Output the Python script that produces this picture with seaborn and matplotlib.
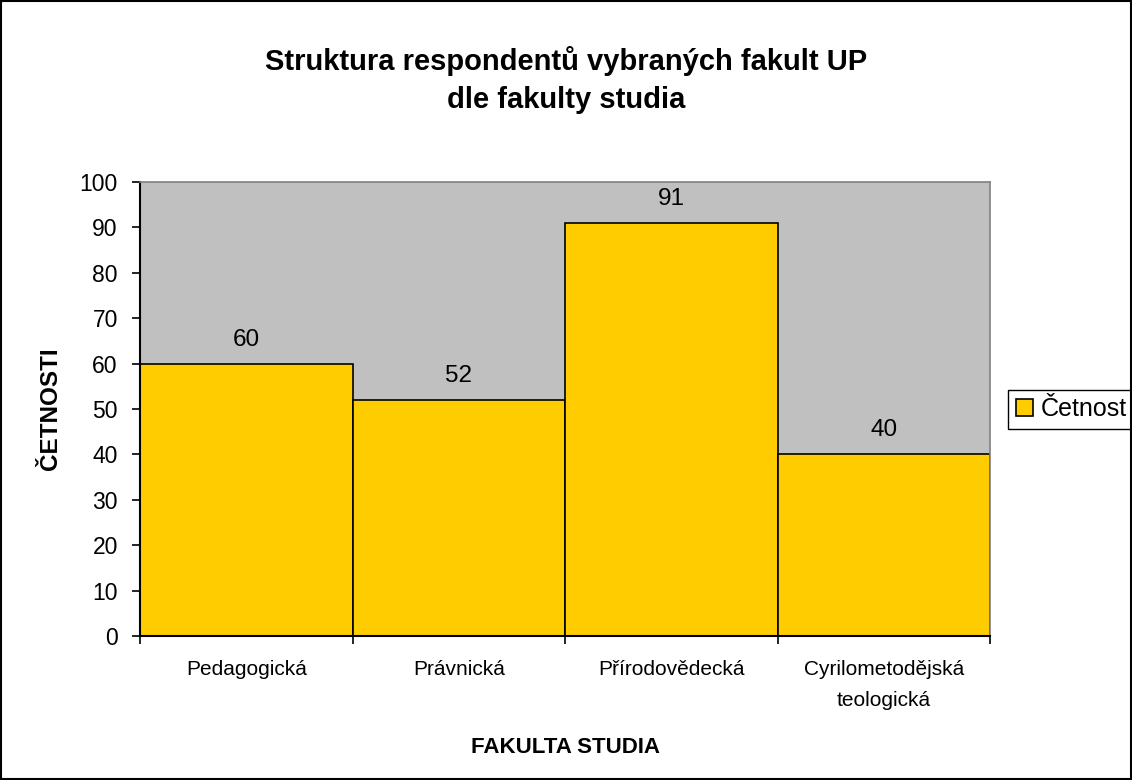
import pandas as pd
import seaborn as sns
import matplotlib.pyplot as plt
from matplotlib.patches import Rectangle

fakulty = ['Pedagogická', 'Právnická', 'Přírodovědecká', 'Cyrilometodějská\nteologická']
cetnosti = [60, 52, 91, 40]

df = pd.DataFrame({'Fakulta': fakulty, 'Četnost': cetnosti})

sns.set_style('white')
plt.rcParams['font.family'] = ['Liberation Sans', 'DejaVu Sans']
plt.rcParams['text.color'] = 'black'
plt.rcParams['axes.labelcolor'] = 'black'
plt.rcParams['xtick.color'] = 'black'
plt.rcParams['ytick.color'] = 'black'

fig = plt.figure(figsize=(11.32, 7.80), dpi=100)
fig.patches.append(Rectangle((0.001, 0.001), 0.998, 0.998, transform=fig.transFigure,
                             fill=False, edgecolor='black', linewidth=1.5))
ax = fig.add_axes([0.1237, 0.1846, 0.7509, 0.582])
ax.set_facecolor('#C0C0C0')

sns.barplot(data=df, x='Fakulta', y='Četnost', color='#FFCC00', width=1.0,
            edgecolor='black', linewidth=1.2, saturation=1, label='Četnost', ax=ax)

ax.set_xlim(-0.5, len(fakulty) - 0.5)
ax.set_ylim(0, 100)
ax.set_yticks(range(0, 101, 10))
ax.tick_params(axis='y', labelsize=16.5, length=6, width=1.2, direction='out', left=True, pad=10)

ax.set_xticks([i - 0.5 for i in range(len(fakulty) + 1)])
ax.set_xticklabels([])
ax.set_xticks(range(len(fakulty)), minor=True)
ax.set_xticklabels(fakulty, minor=True, fontsize=15, linespacing=1.8)
ax.tick_params(axis='x', which='major', length=6, width=1.2, direction='out', bottom=True)
ax.tick_params(axis='x', which='minor', length=0, pad=17)

for b, v in zip(ax.patches, cetnosti):
    ax.annotate(str(v), (b.get_x() + b.get_width() / 2, v), xytext=(0, 13),
                textcoords='offset points', ha='center', va='baseline', fontsize=17.5)

for s in ['left', 'bottom']:
    ax.spines[s].set_color('black')
    ax.spines[s].set_linewidth(1.5)
for s in ['top', 'right']:
    ax.spines[s].set_color('#808080')
    ax.spines[s].set_linewidth(1.2)

ax.set_xlabel('FAKULTA STUDIA', fontsize=16, fontweight='bold')
ax.xaxis.set_label_coords(0.5, -0.222)
ax.set_ylabel('ČETNOSTI', fontsize=17.5, fontweight='bold')
ax.yaxis.set_label_coords(-0.092, 0.5)
fig.text(0.5, 0.898, 'Struktura respondentů vybraných fakult UP\ndle fakulty studia', ha='center', va='center',
         fontsize=21, fontweight='bold', linespacing=1.45)

ax.legend(loc='center left', bbox_to_anchor=(1008 / 1132, 1 - 409 / 780), bbox_transform=fig.transFigure,
          frameon=True, fancybox=False, edgecolor='black', fontsize=18, handlelength=0.7,
          handleheight=0.7, handletextpad=0.3, borderpad=0.3, borderaxespad=0, framealpha=1)

fig.savefig('out.png', dpi=100)
